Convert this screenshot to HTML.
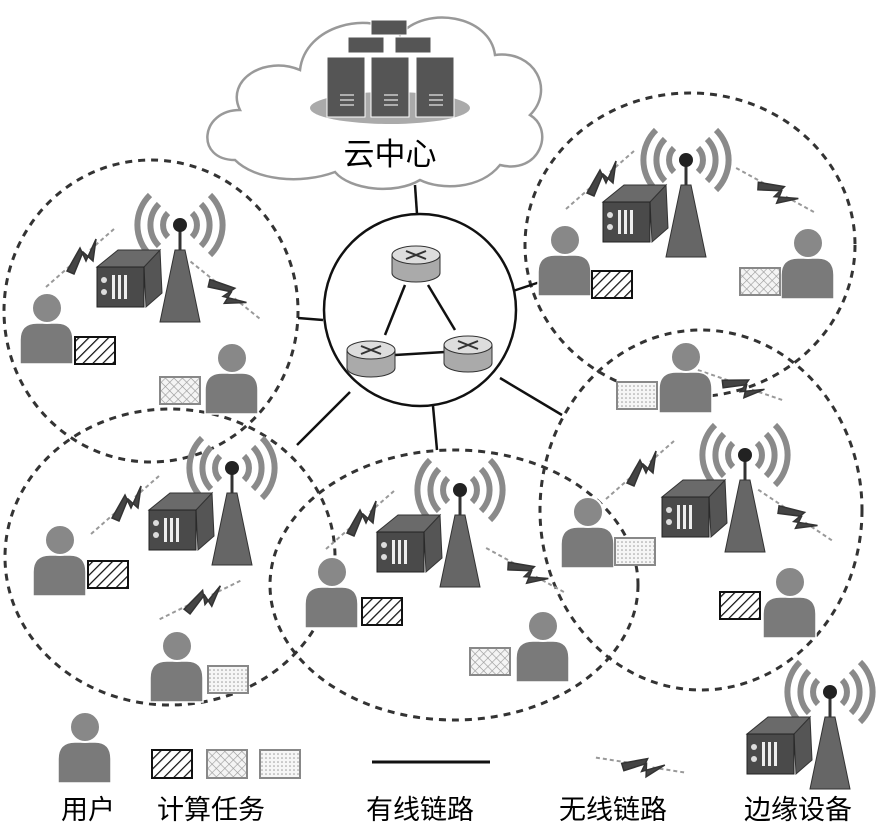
<!DOCTYPE html>
<html><head><meta charset="utf-8"><style>
html,body{margin:0;padding:0;background:#fff}
svg{display:block}
text{font-family:"Liberation Sans","Noto Sans CJK SC",sans-serif;fill:#000}
</style></head><body>
<svg width="886" height="839" viewBox="0 0 886 839" xmlns="http://www.w3.org/2000/svg">
<defs>
<pattern id="hatch" width="7" height="7" patternUnits="userSpaceOnUse" patternTransform="rotate(45)">
<rect width="7" height="7" fill="#fff"/><line x1="0" y1="0" x2="0" y2="7" stroke="#111" stroke-width="2.5"/></pattern>
<pattern id="cross" width="6" height="6" patternUnits="userSpaceOnUse" patternTransform="rotate(45)">
<rect width="6" height="6" fill="#f4f4f4"/><path d="M0 0H6M0 0V6" stroke="#999" stroke-width="1.2"/></pattern>
<pattern id="dots" width="4" height="4" patternUnits="userSpaceOnUse">
<rect width="4" height="4" fill="#f6f6f6"/><circle cx="2" cy="2" r="0.8" fill="#999"/></pattern>
<symbol id="user" overflow="visible">
<path d="M-27,56 L-27,32 Q-27,15 -10,15 L10,15 Q26,15 26,32 L26,56 Z" fill="#7a7a7a" stroke="#fff" stroke-width="1.5"/>
<circle cx="0" cy="0" r="15" fill="#888" stroke="#fff" stroke-width="2"/>
</symbol>
<symbol id="station" overflow="visible">
<g fill="none" stroke="#8a8a8a" stroke-width="6">
<path d="M-12,-12 A17,17 0 0 0 -12,12"/><path d="M12,-12 A17,17 0 0 1 12,12"/>
<path d="M-21,-21 A30,30 0 0 0 -21,21"/><path d="M21,-21 A30,30 0 0 1 21,21"/>
<path d="M-30,-30 A42,42 0 0 0 -30,30"/><path d="M30,-30 A42,42 0 0 1 30,30"/>
</g>
<line x1="0" y1="0" x2="0" y2="28" stroke="#333" stroke-width="3"/>
<circle cx="0" cy="0" r="7" fill="#222"/>
<polygon points="-20,25 -36,42 -34,82 -18,68" fill="#555" stroke="#333" stroke-width="1"/>
<polygon points="-83,42 -36,42 -20,25 -62,25" fill="#6a6a6a" stroke="#333" stroke-width="1"/>
<rect x="-83" y="42" width="47" height="40" fill="#4a4a4a" stroke="#222" stroke-width="1"/>
<circle cx="-76" cy="55" r="3" fill="#ddd"/><circle cx="-76" cy="67" r="3" fill="#ddd"/>
<rect x="-68" y="50" width="3" height="24" fill="#eee"/><rect x="-62" y="50" width="3" height="24" fill="#eee"/><rect x="-56" y="50" width="3" height="24" fill="#eee"/>
<polygon points="-5,25 5,25 20,97 -20,97" fill="#666" stroke="#333" stroke-width="1"/>
</symbol>
<symbol id="bolt" overflow="visible">
<line x1="-34" y1="29" x2="-10" y2="8" stroke="#999" stroke-width="2" stroke-dasharray="4,3"/>
<line x1="10" y1="-8" x2="34" y2="-29" stroke="#999" stroke-width="2" stroke-dasharray="4,3"/>
<polygon points="-13,13 0,-10 6,3 16,-19 13,3 3,-6 -6,16" fill="#444" stroke="#333" stroke-width="1.5"/>
</symbol>
<symbol id="router" overflow="visible">
<path d="M-24,0 V18 A24,9 0 0 0 24,18 V0" fill="#aaa" stroke="#333"/>
<ellipse cx="0" cy="0" rx="24" ry="9" fill="#ddd" stroke="#333"/>
<path d="M-10,-4 L10,4 M-10,4 L10,-4" stroke="#333" stroke-width="2"/>
</symbol>
</defs>

<g fill="none" stroke="#333" stroke-width="3" stroke-dasharray="7,6">
<ellipse cx="151" cy="311" rx="147" ry="151"/>
<ellipse cx="690" cy="245" rx="165" ry="152"/>
<ellipse cx="170" cy="557" rx="165" ry="148"/>
<ellipse cx="454" cy="585" rx="184" ry="135"/>
<ellipse cx="701" cy="510" rx="161" ry="180"/>
</g>

<g stroke="#111" stroke-width="2.5">
<line x1="415" y1="185" x2="417" y2="214"/>
<line x1="298" y1="318" x2="323" y2="320"/>
<line x1="510" y1="292" x2="540" y2="282"/>
<line x1="297" y1="445" x2="350" y2="392"/>
<line x1="433" y1="406" x2="437" y2="450"/>
<line x1="500" y1="378" x2="562" y2="415"/>
</g>

<path d="M235,160 C195,160 200,110 240,110 C225,80 265,55 300,70 C305,25 370,10 400,35 C425,5 490,15 495,55 C535,50 555,90 530,115 C555,130 540,175 500,165 C480,190 440,190 420,180 C395,195 350,190 335,172 C300,185 255,180 235,160 Z" fill="#fff" stroke="#999" stroke-width="2.5"/>
<ellipse cx="390" cy="108" rx="80" ry="16" fill="#aaa"/>
<g fill="#555" stroke="#fff" stroke-width="1">
<rect x="371" y="20" width="36" height="15"/><rect x="348" y="37" width="36" height="16"/><rect x="395" y="37" width="36" height="16"/>
<rect x="327" y="57" width="38" height="60"/><rect x="371" y="57" width="38" height="60"/><rect x="416" y="57" width="38" height="60"/>
</g>
<g stroke="#ccc" stroke-width="1.5">
<path d="M340,95h14M340,100h14M340,105h14M384,95h14M384,100h14M384,105h14M429,95h14M429,100h14M429,105h14"/>
</g>
<text x="390" y="165" font-size="31" text-anchor="middle">云中心</text>

<circle cx="420" cy="310" r="96" fill="#fff" stroke="#111" stroke-width="2.5"/>
<g stroke="#111" stroke-width="2.5"><line x1="405" y1="285" x2="385" y2="335"/><line x1="428" y1="285" x2="455" y2="330"/><line x1="395" y1="355" x2="445" y2="352"/></g>
<use href="#router" x="416" y="255"/>
<use href="#router" x="371" y="350"/>
<use href="#router" x="468" y="345"/>

<use href="#station" x="180" y="225"/>
<use href="#station" x="686" y="160"/>
<use href="#station" x="232" y="468"/>
<use href="#station" x="460" y="490"/>
<use href="#station" x="745" y="455"/>
<use href="#station" x="830" y="692"/>

<use href="#bolt" x="80" y="258"/>
<use href="#bolt" x="225" y="290" transform="rotate(80 225 290)"/>
<use href="#bolt" x="600" y="180"/>
<use href="#bolt" x="775" y="190" transform="rotate(70 775 190)"/>
<use href="#bolt" x="125" y="505"/>
<use href="#bolt" x="200" y="600" transform="rotate(15 200 600)"/>
<use href="#bolt" x="360" y="520"/>
<use href="#bolt" x="525" y="570" transform="rotate(70 525 570)"/>
<use href="#bolt" x="740" y="385" transform="rotate(60 740 385)"/>
<use href="#bolt" x="640" y="470"/>
<use href="#bolt" x="795" y="515" transform="rotate(75 795 515)"/>
<use href="#bolt" x="640" y="765" transform="rotate(50 640 765)"/>

<use href="#user" x="47" y="308"/>
<use href="#user" x="232" y="358"/>
<use href="#user" x="565" y="240"/>
<use href="#user" x="808" y="243"/>
<use href="#user" x="60" y="540"/>
<use href="#user" x="177" y="646"/>
<use href="#user" x="332" y="572"/>
<use href="#user" x="543" y="626"/>
<use href="#user" x="686" y="357"/>
<use href="#user" x="588" y="512"/>
<use href="#user" x="790" y="582"/>
<use href="#user" x="85" y="727"/>

<g stroke-width="2">
<rect x="75" y="337" width="40" height="27" fill="url(#hatch)" stroke="#111"/>
<rect x="160" y="377" width="40" height="27" fill="url(#cross)" stroke="#888"/>
<rect x="592" y="271" width="40" height="27" fill="url(#hatch)" stroke="#111"/>
<rect x="740" y="268" width="40" height="27" fill="url(#cross)" stroke="#888"/>
<rect x="88" y="561" width="40" height="27" fill="url(#hatch)" stroke="#111"/>
<rect x="208" y="666" width="40" height="27" fill="url(#dots)" stroke="#888"/>
<rect x="362" y="598" width="40" height="27" fill="url(#hatch)" stroke="#111"/>
<rect x="470" y="648" width="40" height="27" fill="url(#cross)" stroke="#888"/>
<rect x="617" y="382" width="40" height="27" fill="url(#dots)" stroke="#888"/>
<rect x="615" y="538" width="40" height="27" fill="url(#dots)" stroke="#888"/>
<rect x="720" y="592" width="40" height="27" fill="url(#hatch)" stroke="#111"/>
<rect x="152" y="750" width="40" height="28" fill="url(#hatch)" stroke="#111"/>
<rect x="207" y="750" width="40" height="28" fill="url(#cross)" stroke="#888"/>
<rect x="260" y="750" width="40" height="28" fill="url(#dots)" stroke="#888"/>
</g>

<line x1="372" y1="762" x2="490" y2="762" stroke="#111" stroke-width="3"/>
<g font-size="27">
<text x="61" y="819">用户</text>
<text x="157" y="819">计算任务</text>
<text x="366" y="819">有线链路</text>
<text x="559" y="819">无线链路</text>
<text x="744" y="819">边缘设备</text>
</g>
</svg>
</body></html>
